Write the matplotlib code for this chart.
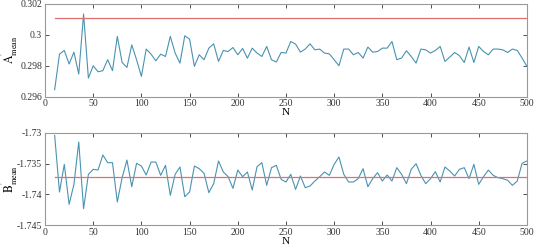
import numpy as np
import matplotlib
matplotlib.use("Agg")
import matplotlib.pyplot as plt

plt.rcParams['font.family'] = ['Liberation Serif', 'DejaVu Serif']
plt.rcParams['mathtext.fontset'] = 'stix'

# sample sizes
N = list(range(10, 505, 5))

# A' mean estimates
a_mean = [0.29645, 0.29875, 0.29899, 0.29811, 0.29888, 0.29746, 0.30135, 0.2972, 0.2980, 0.29761,
          0.29768, 0.29839, 0.29768, 0.2999, 0.29821, 0.29789, 0.29935, 0.29839, 0.29731, 0.29908,
          0.29875, 0.29832, 0.29875, 0.2986, 0.2999, 0.29882, 0.29817, 0.29994, 0.29972, 0.29796,
          0.29871, 0.29839, 0.29914, 0.29942, 0.29828, 0.29899, 0.29892, 0.29918, 0.29871, 0.29912,
          0.29849, 0.29914, 0.29882, 0.2986, 0.29925, 0.29839, 0.29824, 0.29886, 0.29882, 0.29957,
          0.2994, 0.29888, 0.29908, 0.29942, 0.29903, 0.29908, 0.29882, 0.29877, 0.29839, 0.2980,
          0.29908, 0.29908, 0.29871, 0.29886, 0.2985, 0.29921, 0.29888, 0.29892, 0.29914, 0.29914,
          0.29957, 0.29839, 0.2985, 0.29897, 0.2986, 0.29817, 0.29908, 0.29903, 0.29882, 0.29899,
          0.29925, 0.29828, 0.29856, 0.29886, 0.29865, 0.29821, 0.29921, 0.29821, 0.29925, 0.29892,
          0.29871, 0.29908, 0.29908, 0.29903, 0.29886, 0.29908, 0.29899, 0.2985, 0.29796]
a_true = 0.30108

# B' mean estimates
b_mean = [-1.73043, -1.7396, -1.73512, -1.7416, -1.73836, -1.73151, -1.7423, -1.73674, -1.73593, -1.73604,
          -1.73361, -1.73485, -1.73485, -1.74122, -1.73728, -1.73442, -1.73874, -1.73496, -1.73539, -1.73685,
          -1.73475, -1.73475, -1.7369, -1.73528, -1.74014, -1.73674, -1.73555, -1.74036, -1.7396, -1.73539,
          -1.73582, -1.73658, -1.73971, -1.73825, -1.73458, -1.73636, -1.73712, -1.73901, -1.73604, -1.73712,
          -1.73636, -1.73928, -1.7355, -1.73485, -1.73852, -1.73566, -1.73528, -1.73755, -1.73798, -1.73674,
          -1.73917, -1.73701, -1.7389, -1.73863, -1.73782, -1.73712, -1.73636, -1.7369, -1.73512, -1.73394,
          -1.73674, -1.73798, -1.73798, -1.73744, -1.73582, -1.73874, -1.73744, -1.73647, -1.73782, -1.73685,
          -1.73782, -1.73566, -1.73674, -1.73825, -1.73593, -1.73501, -1.7369, -1.73825, -1.73744, -1.73631,
          -1.73798, -1.73555, -1.7362, -1.73701, -1.73593, -1.73566, -1.73744, -1.73512, -1.73836, -1.73712,
          -1.73604, -1.7369, -1.73728, -1.73744, -1.7377, -1.73852, -1.73782, -1.73496, -1.73458]
b_true = -1.73712

a_ticks = [0.296, 0.298, 0.3, 0.302]
a_ticklabels = ['0.296', '0.298', '0.3', '0.302']
b_ticks = [-1.745, -1.74, -1.735, -1.73]
b_ticklabels = ['-1.745', '-1.74', '-1.735', '-1.73']
x_ticks = list(range(0, 550, 50))

line_col = '#4a93b0'
red_col = '#e07070'

fig = plt.figure(figsize=(5.36, 2.49), dpi=100)
ax1 = fig.add_axes([0.084, 0.612, 0.899, 0.372])
ax2 = fig.add_axes([0.084, 0.095, 0.899, 0.372])

def style(ax, yt, ytl, ylim, lab):
    ax.set_xlim(0, 500)
    ax.set_ylim(*ylim)
    ax.set_xticks(x_ticks)
    ax.set_xticklabels([str(t) for t in x_ticks])
    ax.set_yticks(yt)
    ax.set_yticklabels(ytl)
    ax.tick_params(direction='in', length=3, width=0.6, labelsize=7, colors='#333333',
                   top=True, right=True, pad=2)
    for s in ax.spines.values():
        s.set_color('#999999')
        s.set_linewidth(0.8)
    ax.set_xlabel('N', fontsize=8, labelpad=0)
    ax.set_ylabel(lab, fontsize=8.5)
    ax.yaxis.set_label_coords(-0.052, 0.5)

ax1.plot(N, a_mean, color=line_col, lw=0.8)
ax1.plot([N[0], N[-1]], [a_true, a_true], color=red_col, lw=0.9)
style(ax1, a_ticks, a_ticklabels, (0.296, 0.302), r"$\mathrm{A^{'}_{mean}}$")

ax2.plot(N, b_mean, color=line_col, lw=0.8)
ax2.plot([N[0], N[-1]], [b_true, b_true], color=red_col, lw=0.9)
style(ax2, b_ticks, b_ticklabels, (-1.745, -1.73), r"$\mathrm{B^{'}_{mean}}$")

fig.savefig('out.png', dpi=100)
